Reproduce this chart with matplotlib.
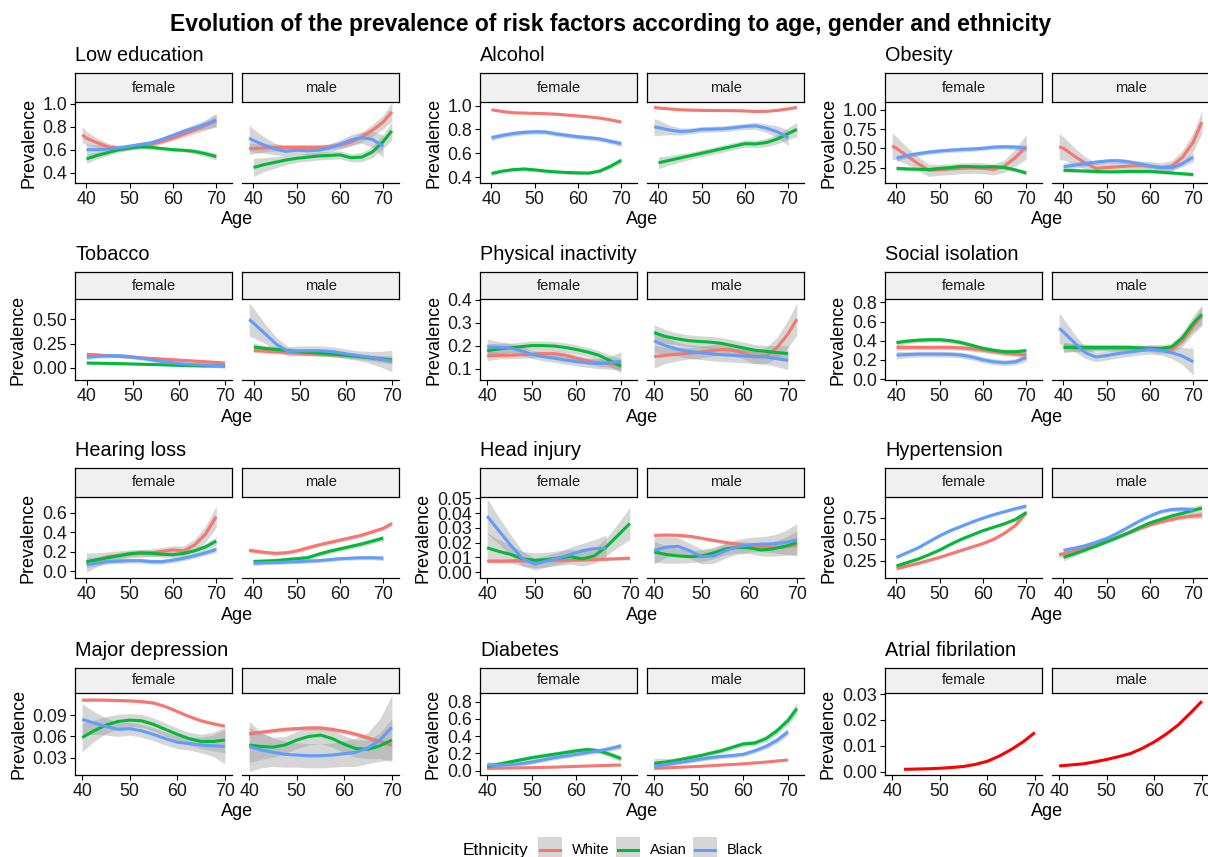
import numpy as np
import matplotlib.pyplot as plt
from matplotlib.patches import Rectangle
from matplotlib.lines import Line2D
from matplotlib.ticker import FormatStrFormatter

plt.rcParams['font.family'] = ['Liberation Sans', 'DejaVu Sans']

N = None
ages = [39, 40, 42.5, 45, 47.5, 50, 52.5, 55, 57.5, 60, 62.5, 65, 67.5, 70, 72]
ethnicities = ["White", "Asian", "Black"]
eth_colors = ["#F8766D", "#00BA38", "#619CFF"]
sexes = ["female", "male"]

# ---- Low education
lowedu_f_white    = [0.73, 0.70, 0.66, 0.625, 0.61, 0.615, 0.63, 0.645, 0.67, 0.70, 0.735, 0.77, 0.81, 0.855, N]
lowedu_f_white_ci = [0.07, 0.06, 0.04, 0.03, 0.025, 0.02, 0.02, 0.02, 0.02, 0.02, 0.025, 0.03, 0.04, 0.05, N]
lowedu_f_asian    = [N, 0.52, 0.55, 0.575, 0.60, 0.615, 0.625, 0.62, 0.61, 0.60, 0.595, 0.585, 0.565, 0.54, N]
lowedu_f_asian_ci = [N, 0.04, 0.03, 0.025, 0.02, 0.02, 0.015, 0.015, 0.015, 0.015, 0.015, 0.02, 0.025, 0.03, N]
lowedu_f_black    = [N, 0.60, 0.60, 0.605, 0.615, 0.63, 0.645, 0.66, 0.69, 0.725, 0.76, 0.79, 0.82, 0.855, N]
lowedu_f_black_ci = [N, 0.05, 0.04, 0.03, 0.025, 0.02, 0.02, 0.02, 0.02, 0.02, 0.025, 0.03, 0.04, 0.06, N]
lowedu_m_white    = [0.61, 0.61, 0.615, 0.62, 0.62, 0.62, 0.62, 0.62, 0.625, 0.64, 0.665, 0.71, 0.77, 0.84, 0.93]
lowedu_m_white_ci = [0.05, 0.045, 0.035, 0.03, 0.025, 0.025, 0.025, 0.025, 0.025, 0.03, 0.035, 0.04, 0.05, 0.06, 0.08]
lowedu_m_asian    = [N, 0.445, 0.47, 0.49, 0.51, 0.525, 0.535, 0.545, 0.55, 0.555, 0.53, 0.535, 0.58, 0.67, 0.765]
lowedu_m_asian_ci = [N, 0.08, 0.06, 0.05, 0.04, 0.035, 0.035, 0.035, 0.035, 0.035, 0.035, 0.04, 0.05, 0.06, 0.08]
lowedu_m_black    = [0.70, 0.68, 0.64, 0.605, 0.585, 0.595, 0.59, 0.595, 0.615, 0.645, 0.685, 0.705, 0.69, 0.63, N]
lowedu_m_black_ci = [0.11, 0.10, 0.07, 0.05, 0.04, 0.035, 0.035, 0.035, 0.035, 0.04, 0.045, 0.05, 0.07, 0.10, N]

# ---- Alcohol
alc_f_white    = [N, 0.965, 0.95, 0.94, 0.937, 0.935, 0.932, 0.928, 0.92, 0.913, 0.905, 0.895, 0.88, 0.862, N]
alc_f_white_ci = [N, 0.008, 0.006, 0.006, 0.006, 0.006, 0.006, 0.006, 0.006, 0.006, 0.006, 0.006, 0.007, 0.008, N]
alc_f_asian    = [N, 0.43, 0.45, 0.462, 0.468, 0.46, 0.45, 0.443, 0.438, 0.435, 0.433, 0.45, 0.49, 0.54, N]
alc_f_asian_ci = [N, 0.02, 0.015, 0.015, 0.015, 0.015, 0.015, 0.015, 0.015, 0.015, 0.015, 0.015, 0.02, 0.025, N]
alc_f_black    = [N, 0.73, 0.75, 0.765, 0.775, 0.78, 0.778, 0.762, 0.75, 0.738, 0.73, 0.72, 0.70, 0.68, N]
alc_f_black_ci = [N, 0.025, 0.02, 0.02, 0.02, 0.02, 0.02, 0.02, 0.02, 0.02, 0.02, 0.02, 0.02, 0.025, N]
alc_m_white    = [0.985, 0.98, 0.972, 0.965, 0.962, 0.96, 0.958, 0.958, 0.957, 0.955, 0.95, 0.952, 0.96, 0.972, 0.985]
alc_m_white_ci = [0.01, 0.008, 0.007, 0.007, 0.007, 0.007, 0.007, 0.007, 0.007, 0.007, 0.007, 0.007, 0.008, 0.009, 0.01]
alc_m_asian    = [N, 0.52, 0.54, 0.56, 0.58, 0.60, 0.62, 0.64, 0.66, 0.68, 0.678, 0.69, 0.72, 0.765, 0.80]
alc_m_asian_ci = [N, 0.05, 0.04, 0.035, 0.03, 0.03, 0.03, 0.03, 0.03, 0.03, 0.03, 0.035, 0.04, 0.05, 0.06]
alc_m_black    = [0.82, 0.815, 0.795, 0.782, 0.787, 0.80, 0.802, 0.805, 0.815, 0.825, 0.83, 0.81, 0.78, 0.73, N]
alc_m_black_ci = [0.07, 0.065, 0.04, 0.03, 0.025, 0.025, 0.025, 0.025, 0.025, 0.025, 0.03, 0.035, 0.05, 0.065, N]

# ---- Obesity
obe_f_white    = [0.53, 0.50, 0.40, 0.30, 0.215, 0.22, 0.23, 0.24, 0.245, 0.24, 0.225, 0.27, 0.38, 0.52, N]
obe_f_white_ci = [0.17, 0.15, 0.11, 0.09, 0.08, 0.07, 0.07, 0.07, 0.07, 0.07, 0.07, 0.08, 0.11, 0.16, N]
obe_f_asian    = [N, 0.24, 0.232, 0.228, 0.225, 0.24, 0.25, 0.265, 0.262, 0.258, 0.262, 0.25, 0.22, 0.18, N]
obe_f_asian_ci = [N, 0.03, 0.025, 0.02, 0.02, 0.02, 0.02, 0.02, 0.02, 0.02, 0.02, 0.02, 0.025, 0.03, N]
obe_f_black    = [N, 0.37, 0.405, 0.43, 0.45, 0.465, 0.475, 0.485, 0.49, 0.50, 0.515, 0.52, 0.515, 0.50, N]
obe_f_black_ci = [N, 0.04, 0.03, 0.03, 0.03, 0.03, 0.03, 0.03, 0.03, 0.03, 0.03, 0.03, 0.035, 0.04, N]
obe_m_white    = [0.52, 0.50, 0.40, 0.31, 0.24, 0.25, 0.26, 0.27, 0.275, 0.27, 0.25, 0.27, 0.38, 0.58, 0.84]
obe_m_white_ci = [0.17, 0.15, 0.11, 0.08, 0.07, 0.06, 0.06, 0.06, 0.06, 0.06, 0.06, 0.07, 0.09, 0.12, 0.15]
obe_m_asian    = [N, 0.215, 0.21, 0.205, 0.20, 0.195, 0.195, 0.20, 0.20, 0.20, 0.19, 0.18, 0.17, 0.16, N]
obe_m_asian_ci = [N, 0.025, 0.02, 0.02, 0.02, 0.02, 0.02, 0.02, 0.02, 0.02, 0.02, 0.02, 0.02, 0.025, N]
obe_m_black    = [N, 0.26, 0.28, 0.30, 0.32, 0.335, 0.34, 0.325, 0.30, 0.27, 0.25, 0.25, 0.30, 0.385, N]
obe_m_black_ci = [N, 0.05, 0.04, 0.035, 0.03, 0.03, 0.03, 0.03, 0.03, 0.03, 0.03, 0.035, 0.04, 0.06, N]

# ---- Tobacco
tob_f_white    = [N, 0.14, 0.133, 0.125, 0.118, 0.11, 0.102, 0.095, 0.088, 0.08, 0.073, 0.066, 0.058, 0.05, N]
tob_f_white_ci = [N, 0.02, 0.015, 0.015, 0.015, 0.015, 0.015, 0.015, 0.015, 0.015, 0.015, 0.015, 0.015, 0.02, N]
tob_f_asian    = [N, 0.05, 0.048, 0.046, 0.043, 0.04, 0.037, 0.034, 0.03, 0.026, 0.023, 0.02, 0.02, 0.02, N]
tob_f_asian_ci = [N, 0.012, 0.01, 0.01, 0.01, 0.01, 0.01, 0.01, 0.01, 0.01, 0.01, 0.01, 0.01, 0.012, N]
tob_f_black    = [N, 0.11, 0.12, 0.125, 0.125, 0.112, 0.095, 0.075, 0.06, 0.045, 0.036, 0.03, 0.025, 0.02, N]
tob_f_black_ci = [N, 0.025, 0.02, 0.02, 0.02, 0.02, 0.02, 0.02, 0.02, 0.02, 0.02, 0.02, 0.02, 0.025, N]
tob_m_white    = [N, 0.18, 0.172, 0.165, 0.158, 0.15, 0.145, 0.14, 0.135, 0.13, 0.12, 0.11, 0.095, 0.08, N]
tob_m_white_ci = [N, 0.025, 0.02, 0.02, 0.02, 0.02, 0.02, 0.02, 0.02, 0.02, 0.02, 0.02, 0.025, 0.03, N]
tob_m_asian    = [N, 0.215, 0.20, 0.19, 0.178, 0.165, 0.158, 0.15, 0.14, 0.13, 0.118, 0.105, 0.093, 0.08, N]
tob_m_asian_ci = [N, 0.04, 0.03, 0.03, 0.03, 0.03, 0.03, 0.03, 0.03, 0.03, 0.03, 0.03, 0.035, 0.04, N]
tob_m_black    = [0.50, 0.46, 0.35, 0.24, 0.17, 0.175, 0.177, 0.175, 0.165, 0.145, 0.127, 0.11, 0.09, 0.07, N]
tob_m_black_ci = [0.17, 0.15, 0.10, 0.07, 0.05, 0.05, 0.05, 0.05, 0.05, 0.05, 0.05, 0.06, 0.08, 0.11, N]

# ---- Physical inactivity
pa_f_white    = [N, 0.155, 0.157, 0.158, 0.16, 0.162, 0.165, 0.165, 0.158, 0.145, 0.133, 0.125, 0.12, 0.115, N]
pa_f_white_ci = [N, 0.02, 0.015, 0.015, 0.015, 0.015, 0.015, 0.015, 0.015, 0.015, 0.015, 0.015, 0.015, 0.02, N]
pa_f_asian    = [N, 0.178, 0.185, 0.19, 0.195, 0.20, 0.20, 0.198, 0.192, 0.183, 0.172, 0.158, 0.135, 0.11, N]
pa_f_asian_ci = [N, 0.03, 0.025, 0.02, 0.02, 0.02, 0.02, 0.02, 0.02, 0.02, 0.02, 0.02, 0.025, 0.03, N]
pa_f_black    = [N, 0.194, 0.193, 0.19, 0.178, 0.162, 0.152, 0.145, 0.137, 0.13, 0.125, 0.122, 0.125, 0.132, N]
pa_f_black_ci = [N, 0.035, 0.025, 0.02, 0.02, 0.018, 0.018, 0.018, 0.018, 0.018, 0.02, 0.022, 0.028, 0.04, N]
pa_m_white    = [N, 0.152, 0.157, 0.162, 0.166, 0.17, 0.177, 0.183, 0.18, 0.168, 0.15, 0.155, 0.19, 0.25, 0.315]
pa_m_white_ci = [N, 0.05, 0.035, 0.03, 0.025, 0.025, 0.025, 0.025, 0.025, 0.025, 0.03, 0.035, 0.045, 0.06, 0.07]
pa_m_asian    = [N, 0.256, 0.24, 0.23, 0.222, 0.218, 0.215, 0.21, 0.20, 0.19, 0.18, 0.175, 0.17, 0.165, N]
pa_m_asian_ci = [N, 0.035, 0.03, 0.025, 0.025, 0.025, 0.025, 0.025, 0.025, 0.025, 0.025, 0.025, 0.03, 0.035, N]
pa_m_black    = [N, 0.22, 0.20, 0.185, 0.175, 0.17, 0.165, 0.16, 0.158, 0.155, 0.152, 0.15, 0.143, 0.135, N]
pa_m_black_ci = [N, 0.05, 0.04, 0.03, 0.03, 0.03, 0.03, 0.03, 0.03, 0.03, 0.03, 0.03, 0.035, 0.04, N]

# ---- Social isolation
si_f_white    = [N, 0.33, 0.33, 0.33, 0.33, 0.33, 0.33, 0.325, 0.315, 0.30, 0.285, 0.27, 0.26, 0.25, N]
si_f_white_ci = [N, 0.03, 0.025, 0.025, 0.025, 0.025, 0.025, 0.025, 0.025, 0.025, 0.025, 0.025, 0.025, 0.03, N]
si_f_asian    = [N, 0.38, 0.395, 0.405, 0.41, 0.41, 0.40, 0.38, 0.35, 0.32, 0.30, 0.285, 0.285, 0.295, N]
si_f_asian_ci = [N, 0.03, 0.025, 0.025, 0.025, 0.025, 0.025, 0.025, 0.025, 0.025, 0.025, 0.025, 0.025, 0.03, N]
si_f_black    = [N, 0.25, 0.255, 0.26, 0.26, 0.26, 0.258, 0.25, 0.23, 0.20, 0.18, 0.17, 0.18, 0.225, N]
si_f_black_ci = [N, 0.04, 0.03, 0.03, 0.03, 0.03, 0.03, 0.03, 0.03, 0.03, 0.03, 0.03, 0.03, 0.04, N]
si_m_white    = [N, 0.33, 0.325, 0.32, 0.32, 0.32, 0.32, 0.32, 0.32, 0.315, 0.30, 0.31, 0.40, 0.55, 0.655]
si_m_white_ci = [N, 0.05, 0.04, 0.035, 0.03, 0.03, 0.03, 0.03, 0.03, 0.03, 0.035, 0.04, 0.06, 0.08, 0.10]
si_m_asian    = [N, 0.33, 0.33, 0.33, 0.33, 0.33, 0.33, 0.33, 0.325, 0.32, 0.32, 0.335, 0.43, 0.58, 0.675]
si_m_asian_ci = [N, 0.05, 0.04, 0.035, 0.03, 0.03, 0.03, 0.03, 0.03, 0.03, 0.035, 0.04, 0.06, 0.08, 0.10]
si_m_black    = [0.53, 0.49, 0.38, 0.275, 0.23, 0.245, 0.265, 0.28, 0.295, 0.31, 0.30, 0.275, 0.24, 0.18, N]
si_m_black_ci = [0.16, 0.14, 0.09, 0.06, 0.05, 0.045, 0.045, 0.045, 0.045, 0.05, 0.05, 0.06, 0.09, 0.14, N]

# ---- Hearing loss
hl_f_white    = [N, 0.09, 0.12, 0.15, 0.165, 0.18, 0.185, 0.19, 0.205, 0.22, 0.21, 0.27, 0.38, 0.56, N]
hl_f_white_ci = [N, 0.10, 0.07, 0.05, 0.045, 0.04, 0.04, 0.04, 0.04, 0.04, 0.05, 0.06, 0.08, 0.11, N]
hl_f_asian    = [N, 0.10, 0.12, 0.14, 0.16, 0.18, 0.19, 0.185, 0.175, 0.17, 0.185, 0.21, 0.25, 0.31, N]
hl_f_asian_ci = [N, 0.04, 0.03, 0.03, 0.03, 0.03, 0.03, 0.03, 0.03, 0.03, 0.03, 0.03, 0.035, 0.04, N]
hl_f_black    = [N, 0.07, 0.085, 0.10, 0.105, 0.11, 0.11, 0.10, 0.10, 0.115, 0.135, 0.16, 0.19, 0.225, N]
hl_f_black_ci = [N, 0.03, 0.025, 0.025, 0.025, 0.025, 0.025, 0.025, 0.025, 0.025, 0.025, 0.025, 0.025, 0.03, N]
hl_m_white    = [0.215, 0.21, 0.195, 0.185, 0.19, 0.21, 0.24, 0.27, 0.295, 0.32, 0.345, 0.37, 0.405, 0.44, 0.49]
hl_m_white_ci = [0.025, 0.02, 0.02, 0.02, 0.02, 0.02, 0.02, 0.02, 0.02, 0.02, 0.02, 0.02, 0.02, 0.02, 0.025]
hl_m_asian    = [N, 0.10, 0.105, 0.11, 0.12, 0.13, 0.14, 0.175, 0.205, 0.23, 0.255, 0.28, 0.31, 0.34, N]
hl_m_asian_ci = [N, 0.03, 0.025, 0.025, 0.025, 0.025, 0.025, 0.025, 0.025, 0.025, 0.025, 0.025, 0.025, 0.03, N]
hl_m_black    = [N, 0.085, 0.088, 0.09, 0.095, 0.10, 0.105, 0.11, 0.12, 0.13, 0.135, 0.14, 0.14, 0.135, N]
hl_m_black_ci = [N, 0.025, 0.02, 0.02, 0.02, 0.02, 0.02, 0.02, 0.02, 0.02, 0.02, 0.02, 0.02, 0.025, N]

# ---- Head injury
hi_f_white    = [N, 0.0075, 0.0075, 0.0076, 0.0077, 0.0078, 0.0079, 0.008, 0.0081, 0.0083, 0.0085, 0.0088, 0.0091, 0.0095, N]
hi_f_white_ci = [N, 0.0012, 0.001, 0.001, 0.001, 0.001, 0.001, 0.001, 0.001, 0.001, 0.001, 0.001, 0.001, 0.0012, N]
hi_f_asian    = [N, 0.0165, 0.014, 0.012, 0.009, 0.008, 0.0085, 0.0095, 0.0105, 0.009, 0.011, 0.017, 0.025, 0.033, N]
hi_f_asian_ci = [N, 0.01, 0.008, 0.006, 0.005, 0.005, 0.005, 0.005, 0.005, 0.005, 0.005, 0.006, 0.008, 0.011, N]
hi_f_black    = [N, 0.038, 0.028, 0.018, 0.009, 0.0055, 0.0075, 0.0095, 0.012, 0.0145, 0.016, 0.0162, N, N, N]
hi_f_black_ci = [N, 0.012, 0.009, 0.007, 0.005, 0.004, 0.004, 0.004, 0.005, 0.005, 0.006, 0.009, N, N, N]
hi_m_white    = [N, 0.0249, 0.0252, 0.025, 0.0243, 0.023, 0.0215, 0.0202, 0.019, 0.018, 0.0173, 0.017, 0.0172, 0.0185, N]
hi_m_white_ci = [N, 0.0012, 0.001, 0.001, 0.001, 0.001, 0.001, 0.001, 0.001, 0.001, 0.001, 0.001, 0.001, 0.0012, N]
hi_m_asian    = [N, 0.0137, 0.012, 0.011, 0.0105, 0.011, 0.013, 0.0158, 0.0168, 0.0165, 0.015, 0.0158, 0.0175, 0.020, N]
hi_m_asian_ci = [N, 0.007, 0.006, 0.005, 0.004, 0.004, 0.004, 0.004, 0.004, 0.004, 0.004, 0.005, 0.006, 0.008, N]
hi_m_black    = [N, 0.0146, 0.017, 0.0175, 0.0145, 0.0105, 0.011, 0.0145, 0.0172, 0.0185, 0.019, 0.0192, 0.020, 0.022, N]
hi_m_black_ci = [N, 0.009, 0.007, 0.006, 0.005, 0.005, 0.005, 0.005, 0.005, 0.005, 0.005, 0.006, 0.008, 0.011, N]

# ---- Hypertension
ht_f_white    = [N, 0.16, 0.19, 0.22, 0.255, 0.29, 0.33, 0.37, 0.41, 0.45, 0.50, 0.57, 0.66, 0.81, N]
ht_f_white_ci = [N, 0.02, 0.015, 0.015, 0.015, 0.015, 0.015, 0.015, 0.015, 0.015, 0.015, 0.015, 0.02, 0.03, N]
ht_f_asian    = [N, 0.19, 0.23, 0.27, 0.32, 0.375, 0.44, 0.50, 0.55, 0.60, 0.64, 0.68, 0.73, 0.81, N]
ht_f_asian_ci = [N, 0.02, 0.015, 0.015, 0.015, 0.015, 0.015, 0.015, 0.015, 0.015, 0.015, 0.015, 0.02, 0.025, N]
ht_f_black    = [N, 0.29, 0.345, 0.40, 0.47, 0.54, 0.60, 0.65, 0.70, 0.745, 0.785, 0.82, 0.855, 0.885, N]
ht_f_black_ci = [N, 0.02, 0.015, 0.015, 0.015, 0.015, 0.015, 0.015, 0.015, 0.015, 0.015, 0.015, 0.02, 0.025, N]
ht_m_white    = [0.32, 0.33, 0.36, 0.40, 0.44, 0.48, 0.525, 0.57, 0.62, 0.665, 0.70, 0.73, 0.755, 0.77, 0.78]
ht_m_white_ci = [0.04, 0.03, 0.02, 0.02, 0.02, 0.02, 0.02, 0.02, 0.02, 0.02, 0.02, 0.02, 0.025, 0.03, 0.04]
ht_m_asian    = [N, 0.29, 0.33, 0.375, 0.42, 0.47, 0.52, 0.575, 0.635, 0.69, 0.73, 0.77, 0.80, 0.835, 0.86]
ht_m_asian_ci = [N, 0.04, 0.03, 0.025, 0.02, 0.02, 0.02, 0.02, 0.02, 0.02, 0.02, 0.025, 0.03, 0.04, 0.05]
ht_m_black    = [N, 0.37, 0.395, 0.425, 0.465, 0.51, 0.57, 0.64, 0.71, 0.77, 0.82, 0.845, 0.85, 0.84, N]
ht_m_black_ci = [N, 0.03, 0.025, 0.02, 0.02, 0.02, 0.02, 0.02, 0.02, 0.02, 0.02, 0.025, 0.03, 0.04, N]

# ---- Major depression
md_f_white    = [N, 0.111, 0.1112, 0.111, 0.1105, 0.110, 0.109, 0.107, 0.102, 0.095, 0.088, 0.082, 0.078, 0.0745, N]
md_f_white_ci = [N, 0.002, 0.002, 0.002, 0.002, 0.002, 0.002, 0.002, 0.002, 0.002, 0.002, 0.002, 0.002, 0.002, N]
md_f_asian    = [N, 0.0585, 0.068, 0.076, 0.081, 0.083, 0.082, 0.077, 0.070, 0.063, 0.057, 0.053, 0.053, 0.055, N]
md_f_asian_ci = [N, 0.02, 0.015, 0.012, 0.01, 0.009, 0.009, 0.009, 0.009, 0.009, 0.009, 0.01, 0.013, 0.018, N]
md_f_black    = [N, 0.084, 0.079, 0.074, 0.070, 0.071, 0.068, 0.063, 0.057, 0.052, 0.050, 0.048, 0.047, 0.046, N]
md_f_black_ci = [N, 0.022, 0.016, 0.012, 0.01, 0.009, 0.009, 0.009, 0.009, 0.009, 0.009, 0.011, 0.015, 0.024, N]
md_m_white    = [N, 0.064, 0.066, 0.068, 0.070, 0.071, 0.072, 0.072, 0.070, 0.067, 0.063, 0.058, 0.053, 0.048, N]
md_m_white_ci = [N, 0.003, 0.003, 0.003, 0.003, 0.003, 0.003, 0.003, 0.003, 0.003, 0.003, 0.003, 0.003, 0.003, N]
md_m_asian    = [N, 0.048, 0.046, 0.045, 0.048, 0.055, 0.060, 0.062, 0.057, 0.049, 0.043, 0.042, 0.047, 0.055, N]
md_m_asian_ci = [N, 0.025, 0.018, 0.014, 0.012, 0.012, 0.012, 0.012, 0.012, 0.012, 0.012, 0.013, 0.018, 0.03, N]
md_m_black    = [N, 0.046, 0.041, 0.038, 0.035, 0.034, 0.033, 0.033, 0.034, 0.036, 0.038, 0.044, 0.055, 0.073, N]
md_m_black_ci = [N, 0.035, 0.025, 0.02, 0.018, 0.017, 0.017, 0.017, 0.017, 0.018, 0.02, 0.022, 0.03, 0.045, N]

# ---- Diabetes
db_f_white    = [N, 0.027, 0.029, 0.031, 0.033, 0.035, 0.038, 0.041, 0.045, 0.05, 0.054, 0.058, 0.062, 0.066, N]
db_f_white_ci = [N, 0.006, 0.005, 0.005, 0.005, 0.005, 0.005, 0.005, 0.005, 0.005, 0.005, 0.005, 0.005, 0.006, N]
db_f_asian    = [N, 0.046, 0.075, 0.10, 0.125, 0.15, 0.17, 0.19, 0.21, 0.23, 0.245, 0.23, 0.19, 0.14, N]
db_f_asian_ci = [N, 0.04, 0.03, 0.03, 0.03, 0.03, 0.03, 0.03, 0.03, 0.03, 0.03, 0.03, 0.03, 0.035, N]
db_f_black    = [N, 0.066, 0.065, 0.07, 0.08, 0.10, 0.125, 0.15, 0.17, 0.19, 0.21, 0.23, 0.255, 0.286, N]
db_f_black_ci = [N, 0.04, 0.025, 0.025, 0.025, 0.025, 0.025, 0.025, 0.025, 0.025, 0.025, 0.025, 0.03, 0.035, N]
db_m_white    = [N, 0.027, 0.032, 0.038, 0.044, 0.05, 0.057, 0.065, 0.072, 0.08, 0.09, 0.10, 0.112, 0.124, N]
db_m_white_ci = [N, 0.008, 0.006, 0.006, 0.006, 0.006, 0.006, 0.006, 0.006, 0.006, 0.006, 0.006, 0.007, 0.008, N]
db_m_asian    = [N, 0.085, 0.10, 0.12, 0.145, 0.17, 0.20, 0.23, 0.27, 0.31, 0.32, 0.37, 0.46, 0.58, 0.72]
db_m_asian_ci = [N, 0.06, 0.04, 0.03, 0.03, 0.03, 0.03, 0.03, 0.03, 0.03, 0.03, 0.035, 0.04, 0.05, 0.07]
db_m_black    = [N, 0.054, 0.07, 0.09, 0.11, 0.13, 0.15, 0.165, 0.175, 0.19, 0.23, 0.28, 0.35, 0.45, N]
db_m_black_ci = [N, 0.03, 0.025, 0.025, 0.025, 0.025, 0.025, 0.025, 0.025, 0.025, 0.025, 0.03, 0.035, 0.04, N]

# ---- Atrial fibrilation (one overall curve per sex)
af_f = [N, N, 0.0009, 0.001, 0.0011, 0.0013, 0.0016, 0.002, 0.0028, 0.004, 0.006, 0.0085, 0.0115, 0.0151, N]
af_m = [N, 0.0022, 0.0026, 0.003, 0.0038, 0.0047, 0.0058, 0.007, 0.009, 0.0115, 0.0145, 0.018, 0.0225, 0.0272, N]

titles = ["Low education", "Alcohol", "Obesity", "Tobacco", "Physical inactivity",
          "Social isolation", "Hearing loss", "Head injury", "Hypertension",
          "Major depression", "Diabetes", "Atrial fibrilation"]

# (female curves, male curves), each curve = (values, half-width of band)
series = [
    ([(lowedu_f_white, lowedu_f_white_ci), (lowedu_f_asian, lowedu_f_asian_ci), (lowedu_f_black, lowedu_f_black_ci)],
     [(lowedu_m_white, lowedu_m_white_ci), (lowedu_m_asian, lowedu_m_asian_ci), (lowedu_m_black, lowedu_m_black_ci)]),
    ([(alc_f_white, alc_f_white_ci), (alc_f_asian, alc_f_asian_ci), (alc_f_black, alc_f_black_ci)],
     [(alc_m_white, alc_m_white_ci), (alc_m_asian, alc_m_asian_ci), (alc_m_black, alc_m_black_ci)]),
    ([(obe_f_white, obe_f_white_ci), (obe_f_asian, obe_f_asian_ci), (obe_f_black, obe_f_black_ci)],
     [(obe_m_white, obe_m_white_ci), (obe_m_asian, obe_m_asian_ci), (obe_m_black, obe_m_black_ci)]),
    ([(tob_f_white, tob_f_white_ci), (tob_f_asian, tob_f_asian_ci), (tob_f_black, tob_f_black_ci)],
     [(tob_m_white, tob_m_white_ci), (tob_m_asian, tob_m_asian_ci), (tob_m_black, tob_m_black_ci)]),
    ([(pa_f_white, pa_f_white_ci), (pa_f_asian, pa_f_asian_ci), (pa_f_black, pa_f_black_ci)],
     [(pa_m_white, pa_m_white_ci), (pa_m_asian, pa_m_asian_ci), (pa_m_black, pa_m_black_ci)]),
    ([(si_f_white, si_f_white_ci), (si_f_asian, si_f_asian_ci), (si_f_black, si_f_black_ci)],
     [(si_m_white, si_m_white_ci), (si_m_asian, si_m_asian_ci), (si_m_black, si_m_black_ci)]),
    ([(hl_f_white, hl_f_white_ci), (hl_f_asian, hl_f_asian_ci), (hl_f_black, hl_f_black_ci)],
     [(hl_m_white, hl_m_white_ci), (hl_m_asian, hl_m_asian_ci), (hl_m_black, hl_m_black_ci)]),
    ([(hi_f_white, hi_f_white_ci), (hi_f_asian, hi_f_asian_ci), (hi_f_black, hi_f_black_ci)],
     [(hi_m_white, hi_m_white_ci), (hi_m_asian, hi_m_asian_ci), (hi_m_black, hi_m_black_ci)]),
    ([(ht_f_white, ht_f_white_ci), (ht_f_asian, ht_f_asian_ci), (ht_f_black, ht_f_black_ci)],
     [(ht_m_white, ht_m_white_ci), (ht_m_asian, ht_m_asian_ci), (ht_m_black, ht_m_black_ci)]),
    ([(md_f_white, md_f_white_ci), (md_f_asian, md_f_asian_ci), (md_f_black, md_f_black_ci)],
     [(md_m_white, md_m_white_ci), (md_m_asian, md_m_asian_ci), (md_m_black, md_m_black_ci)]),
    ([(db_f_white, db_f_white_ci), (db_f_asian, db_f_asian_ci), (db_f_black, db_f_black_ci)],
     [(db_m_white, db_m_white_ci), (db_m_asian, db_m_asian_ci), (db_m_black, db_m_black_ci)]),
    ([(af_f, None)], [(af_m, None)]),
]

ylims = [(0.31, 1.015), (0.35, 1.03), (0.05, 1.10), (-0.125, 0.71), (0.05, 0.403), (-0.01, 0.835),
         (-0.067, 0.76), (-0.004, 0.051), (0.05, 0.99), (0.006, 0.121), (-0.05, 0.90), (-0.0013, 0.0304)]
yticks = [[0.4, 0.6, 0.8, 1.0], [0.4, 0.6, 0.8, 1.0], [0.25, 0.5, 0.75, 1.0], [0, 0.25, 0.5],
          [0.1, 0.2, 0.3, 0.4], [0, 0.2, 0.4, 0.6, 0.8], [0, 0.2, 0.4, 0.6],
          [0, 0.01, 0.02, 0.03, 0.04, 0.05], [0.25, 0.5, 0.75], [0.03, 0.06, 0.09],
          [0, 0.2, 0.4, 0.6, 0.8], [0, 0.01, 0.02, 0.03]]
ydec = [1, 1, 2, 2, 1, 1, 1, 2, 2, 2, 1, 2]

# layout in pixels of the 1208x857 original
W, H = 1208, 857
col_x = [75, 480, 885]
strip_top = [73, 272, 468, 668]
plot_top = [102, 299, 497, 693]
plot_bot = [183, 380, 578, 775]
facet_w, facet_gap = 157, 10
band_col = "#999999"

fig = plt.figure(figsize=(W / 100, H / 100), dpi=100)
fig.text(611 / W, 1 - 25 / H,
         "Evolution of the prevalence of risk factors according to age, gender and ethnicity",
         ha="center", va="center", fontsize=16.5, fontweight="bold")

x = np.array(ages, dtype=float)

for k, title in enumerate(titles):
    r, c = divmod(k, 3)
    x0 = col_x[c]
    # shared x range from the data, ggplot-style 5% expansion
    present = [x[~np.isnan(np.array(v, dtype=float))] for side in series[k] for v, _ in side]
    amin = min(p.min() for p in present)
    amax = max(p.max() for p in present)
    pad = 0.05 * (amax - amin)

    fig.text(x0 / W, 1 - (strip_top[r] - 12) / H, title, fontsize=14.3,
             ha="left", va="baseline")

    for s, sex in enumerate(sexes):
        left = x0 + s * (facet_w + facet_gap)
        ax = fig.add_axes([left / W, 1 - plot_bot[r] / H, facet_w / W,
                           (plot_bot[r] - plot_top[r]) / H])
        curves = series[k][s]
        for j, (vals, ci) in enumerate(curves):
            y = np.array(vals, dtype=float)
            m = ~np.isnan(y)
            if ci is None:
                ax.plot(x[m], y[m], color="red", lw=2.2, solid_capstyle="butt")
                continue
            e = np.array(ci, dtype=float)
            ax.fill_between(x[m], y[m] - e[m], y[m] + e[m], color=band_col,
                            alpha=0.4, lw=0)
            ax.plot(x[m], y[m], color=eth_colors[j], lw=2.2, solid_capstyle="butt")

        ax.set_xlim(amin - pad, amax + pad)
        ax.set_ylim(*ylims[k])
        ax.set_xticks([40, 50, 60, 70])
        ax.set_yticks(yticks[k])
        ax.yaxis.set_major_formatter(FormatStrFormatter("%%.%df" % ydec[k]))
        ax.tick_params(labelsize=12.8, length=3.5, width=0.8, pad=2,
                       colors="black", labelcolor="#1a1a1a")
        for sp in ["top", "right"]:
            ax.spines[sp].set_visible(False)
        ax.spines["bottom"].set_linewidth(0.9)
        ax.spines["left"].set_linewidth(0.9)
        if s == 1:
            ax.spines["left"].set_visible(False)
            ax.tick_params(axis="y", left=False, labelleft=False)
        else:
            ax.set_ylabel("Prevalence", fontsize=13, labelpad=4)
        ax.patch.set_alpha(0)

        sax = fig.add_axes([left / W, 1 - plot_top[r] / H, facet_w / W,
                            (plot_top[r] - strip_top[r]) / H])
        sax.set_facecolor("#F0F0F0")
        sax.set_xticks([])
        sax.set_yticks([])
        for sp in sax.spines.values():
            sp.set_linewidth(0.9)
        sax.text(0.5, 0.5, sex, ha="center", va="center", fontsize=10.5,
                 color="#1a1a1a", transform=sax.transAxes)

    fig.text((x0 + facet_w + facet_gap / 2) / W, 1 - (plot_bot[r] + 37) / H, "Age",
             ha="center", va="center", fontsize=13)

# legend along the bottom edge
fig.text(463 / W, 1 - 850 / H, "Ethnicity", ha="left", va="center", fontsize=12.5)
key_x = [538, 616, 693]
for j, name in enumerate(ethnicities):
    kx = key_x[j]
    fig.patches.append(Rectangle((kx / W, 1 - 858 / H), 24 / W, 21 / H,
                                 transform=fig.transFigure, facecolor="#D6D6D6",
                                 edgecolor="none"))
    fig.lines.append(Line2D([(kx + 2) / W, (kx + 22) / W], [1 - 850 / H, 1 - 850 / H],
                            transform=fig.transFigure, color=eth_colors[j], lw=2.2))
    fig.text((kx + 34) / W, 1 - 850 / H, name, ha="left", va="center", fontsize=10.5)

fig.savefig("out.png", dpi=100)
